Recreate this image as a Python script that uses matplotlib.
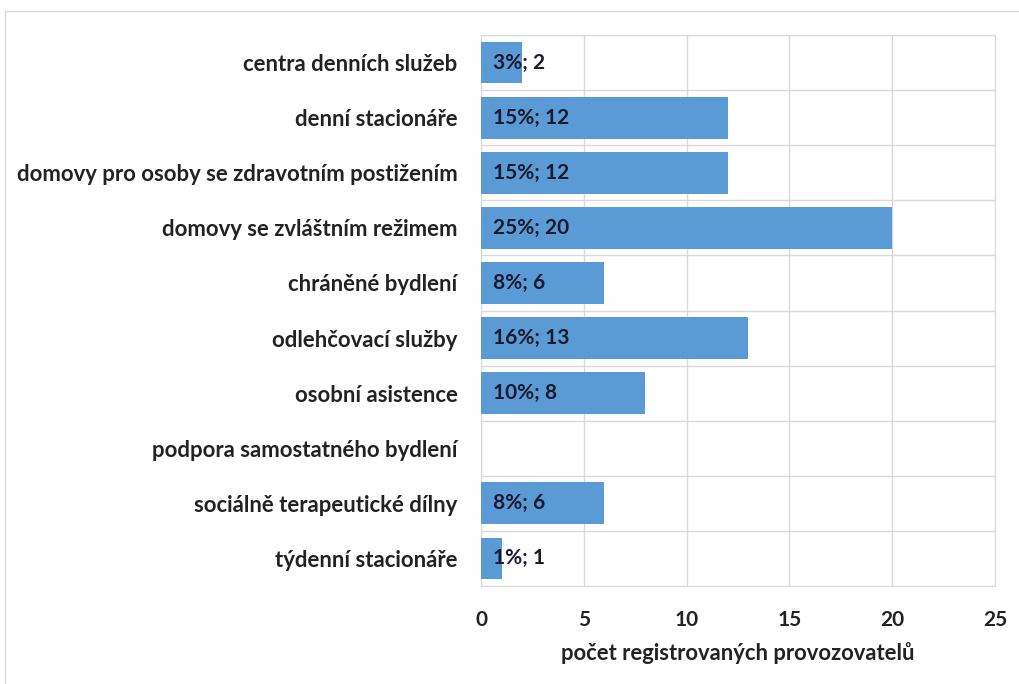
import matplotlib
matplotlib.use("Agg")
import matplotlib.pyplot as plt
from matplotlib.patches import Rectangle
import numpy as np

categories = ["centra denních služeb", "denní stacionáře",
              "domovy pro osoby se zdravotním postižením",
              "domovy se zvláštním režimem", "chráněné bydlení",
              "odlehčovací služby", "osobní asistence",
              "podpora samostatného bydlení",
              "sociálně terapeutické dílny", "týdenní stacionáře"]
values = [2, 12, 12, 20, 6, 13, 8, 0, 6, 1]
percents = ["3%", "15%", "15%", "25%", "8%", "16%", "10%", "", "8%", "1%"]
xticks = [0, 5, 10, 15, 20, 25]

plt.rcParams['font.family'] = ['Lato', 'DejaVu Sans']
plt.rcParams['font.weight'] = 'bold'

fig = plt.figure(figsize=(10.19, 6.84), dpi=100)
ax = fig.add_axes([481/1019, 1-586/684, (995-481)/1019, (586-35)/684])

y = np.arange(len(categories))
ax.barh(y, values, height=0.76, color="#5b9bd5", zorder=3)
ax.set_ylim(len(categories)-0.5, -0.5)
ax.set_xlim(0, 25)
ax.set_xticks(xticks)
ax.set_yticks(y)
ax.set_yticklabels(categories, fontsize=15.9, fontweight='bold', color="#222222")
ax.set_yticks(np.arange(-0.5, len(categories), 1), minor=True)
ax.tick_params(axis='y', which='both', length=0, pad=17)
ax.tick_params(axis='x', length=0, pad=17, labelsize=15, labelcolor="#222222")
for lbl in ax.get_xticklabels():
    lbl.set_fontweight('bold')
ax.grid(axis='x', which='major', color="#d9d9d9", lw=1, zorder=0)
ax.grid(axis='y', which='minor', color="#d9d9d9", lw=1, zorder=0)
for s in ax.spines.values():
    s.set_color("#d9d9d9")

for yi, v, p in zip(y, values, percents):
    if v > 0:
        ax.text(0.6, yi, f"{p}; {v}", va='center', ha='left', fontsize=15,
                fontweight='bold', color="#1a1a2e", zorder=4)

ax.set_xlabel("počet registrovaných provozovatelů", fontsize=15.8,
              fontweight='bold', color="#222222", labelpad=9)

fig.patches.append(Rectangle((5/1019, -0.1), 1.2, 1.1 - 11/684,
                             transform=fig.transFigure, fill=False,
                             edgecolor="#d9d9d9", lw=1))

fig.savefig("out.png", dpi=100, facecolor="white")
